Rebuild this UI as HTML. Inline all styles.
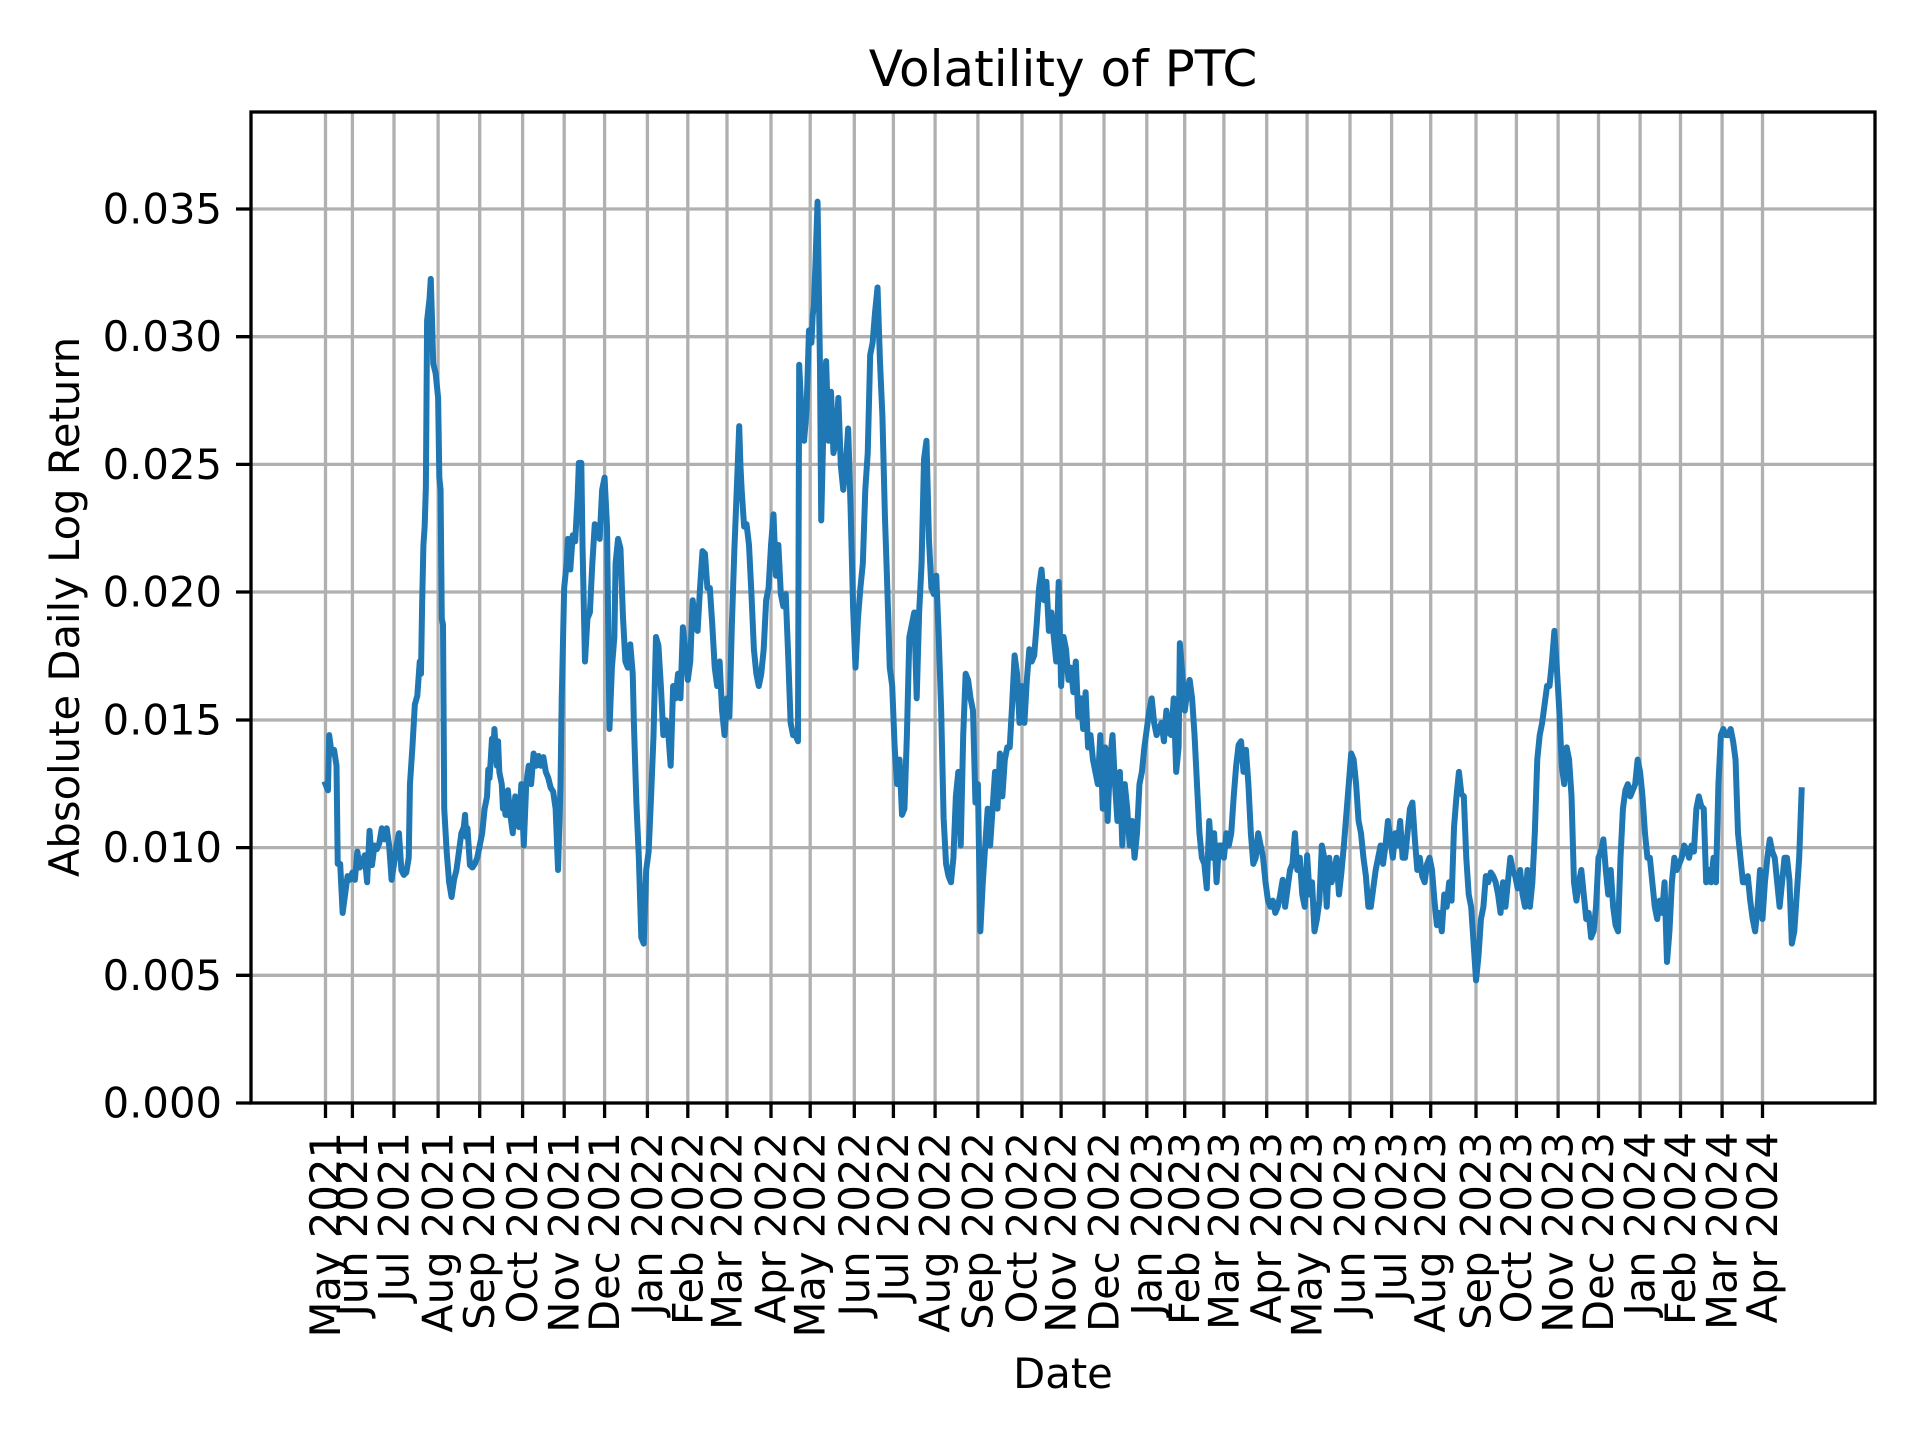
<!DOCTYPE html>
<html><head><meta charset="utf-8"><style>html,body{margin:0;padding:0;background:#fff}svg{display:block}text{font-family:"DejaVu Sans","Liberation Sans",sans-serif;fill:#000}</style></head>
<body>
<svg width="1920" height="1440" viewBox="0 0 1920 1440" xmlns="http://www.w3.org/2000/svg">
<rect width="1920" height="1440" fill="#fff"/>
<g stroke="#b0b0b0" stroke-width="3.3">
<line x1="251" x2="1875" y1="975.3" y2="975.3"/><line x1="251" x2="1875" y1="847.6" y2="847.6"/><line x1="251" x2="1875" y1="720" y2="720"/><line x1="251" x2="1875" y1="592" y2="592"/><line x1="251" x2="1875" y1="464.4" y2="464.4"/><line x1="251" x2="1875" y1="336.7" y2="336.7"/><line x1="251" x2="1875" y1="209" y2="209"/>
<path d="M325.5 112V1103M352.4 112V1103M394 112V1103M438.1 112V1103M479.7 112V1103M522.6 112V1103M564.2 112V1103M604.6 112V1103M647.4 112V1103M687.8 112V1103M727 112V1103M771 112V1103M810.2 112V1103M854.3 112V1103M893.4 112V1103M935.1 112V1103M977.9 112V1103M1022 112V1103M1061.1 112V1103M1104 112V1103M1146.8 112V1103M1184.7 112V1103M1223.9 112V1103M1266.7 112V1103M1307.1 112V1103M1350 112V1103M1391.6 112V1103M1430.7 112V1103M1476 112V1103M1516.4 112V1103M1558.1 112V1103M1598.5 112V1103M1640.1 112V1103M1680.5 112V1103M1722.1 112V1103M1762.5 112V1103"/>
</g>
<g transform="matrix(1.224,0,0,1.2263,1.14,-0.67)">
<polyline fill="none" stroke="#1f77b4" stroke-width="6" vector-effect="non-scaling-stroke" stroke-linejoin="round" stroke-linecap="square" points="265,640 267,645 268,600 270,615 272,612 274,625 275,705 277,705 279,745 281,730 283,715 285,718 287,712 289,718 291,695 293,708 295,705 297,698 299,720 301,678 303,706 305,690 307,693 309,688 311,676 313,685 315,676 317,690 319,718 321,705 323,690 325,680 327,710 329,714 331,712 333,700 334,640 336,610 338,575 340,568 342,540 343,550 344,490 345,445 346,430 347,398 348,262 350,244 351,228 352,260 353,297 355,305 357,325 358,390 359,400 360,505 361,510 362,660 364,695 366,720 368,732 370,718 372,710 374,695 376,680 378,675 379,665 380,683 381,676 383,706 385,708 387,705 389,700 391,690 393,680 395,660 397,650 398,628 399,635 400,620 401,603 402,615 403,595 405,625 406,605 407,630 409,640 410,660 411,650 412,665 413,665 414,645 416,665 418,680 420,650 421,670 423,675 425,640 427,690 429,640 431,625 433,640 435,615 437,625 439,617 441,625 443,618 445,630 447,635 449,643 451,646 453,660 455,710 457,640 458,570 460,480 462,460 463,440 465,465 467,437 469,442 471,405 472,378 474,378 475,446 477,540 479,505 481,500 483,460 485,428 487,430 489,440 491,400 493,390 495,430 497,595 499,545 501,520 502,460 504,440 506,448 508,503 510,540 512,545 514,526 516,550 517,592 519,655 521,700 523,765 525,770 527,710 529,695 531,650 533,600 535,520 537,527 539,560 541,600 543,588 545,598 547,625 549,560 551,570 553,550 555,570 557,512 559,530 561,555 563,540 565,490 567,510 569,515 571,480 573,450 575,452 577,480 579,480 581,510 583,545 585,560 587,540 589,580 591,600 593,570 595,585 597,510 599,450 601,400 603,348 604,380 605,400 607,430 609,428 611,445 613,485 615,530 617,550 619,560 621,550 623,530 625,490 627,480 629,445 631,420 633,470 635,445 637,485 639,495 641,485 643,535 645,590 647,600 649,600 651,605 652,298 654,340 656,360 658,335 660,270 662,280 663,258 664,250 665,224 667,165 669,300 670,425 672,340 674,295 676,360 678,320 680,370 682,360 684,325 686,380 688,400 690,380 692,350 694,415 696,495 698,545 700,505 702,480 704,460 706,400 708,370 710,290 712,280 714,255 716,235 718,295 720,340 722,420 724,480 726,545 728,560 730,610 732,640 734,620 736,665 738,660 740,600 742,520 744,510 746,500 748,570 750,500 752,460 754,375 756,360 758,440 760,480 762,485 764,470 766,520 768,580 770,668 772,705 774,715 776,720 778,700 780,650 782,630 784,690 786,600 788,550 790,555 792,570 794,580 796,655 798,640 800,760 802,720 804,690 806,660 808,690 810,660 812,630 814,660 816,615 818,650 820,620 822,610 824,610 826,575 828,535 830,550 832,590 834,560 836,590 838,555 840,530 842,540 844,535 846,510 848,480 850,465 852,490 854,475 856,515 858,500 860,520 862,540 864,475 866,560 868,520 870,530 872,555 874,545 876,565 878,540 880,585 882,570 884,595 886,565 888,610 890,600 892,620 894,630 896,640 898,600 900,660 902,610 904,670 906,620 908,600 910,640 912,670 914,630 916,690 918,640 920,660 922,690 924,670 926,700 928,680 930,640 932,630 934,610 936,595 938,580 940,570 942,590 944,600 946,595 948,590 950,605 952,580 954,598 956,600 958,570 960,630 962,610 963,525 965,550 967,580 969,565 971,555 973,570 975,600 977,640 979,680 981,700 983,705 985,725 987,670 989,700 991,680 993,720 995,690 997,690 999,700 1001,680 1003,690 1005,680 1007,650 1009,625 1011,608 1013,605 1015,630 1017,612 1019,640 1021,680 1023,705 1025,700 1027,680 1029,690 1031,700 1033,720 1035,735 1037,740 1039,735 1041,745 1043,740 1045,730 1047,718 1049,740 1051,725 1053,710 1055,705 1057,680 1059,710 1061,700 1063,730 1065,740 1067,698 1069,730 1071,720 1073,760 1075,750 1077,735 1079,690 1081,700 1083,740 1085,700 1087,720 1089,712 1091,700 1093,730 1095,712 1097,690 1099,665 1101,640 1103,615 1105,620 1107,640 1109,670 1111,680 1113,700 1115,715 1117,740 1119,740 1121,725 1123,710 1125,700 1127,690 1129,705 1131,690 1133,670 1135,685 1137,700 1139,680 1141,690 1143,670 1145,700 1147,700 1149,680 1151,660 1153,655 1155,685 1157,710 1159,700 1161,715 1163,720 1165,705 1167,700 1169,710 1171,735 1173,755 1175,745 1177,760 1179,730 1181,740 1183,720 1185,735 1187,675 1189,650 1191,630 1193,648 1195,650 1197,700 1199,730 1201,740 1203,770 1205,800 1207,780 1209,750 1211,740 1213,715 1215,720 1217,712 1219,715 1221,720 1223,730 1225,745 1227,720 1229,740 1231,720 1233,700 1235,710 1237,715 1239,725 1241,710 1243,730 1245,740 1247,710 1249,740 1251,720 1253,680 1255,620 1257,600 1259,590 1261,575 1263,560 1265,560 1267,540 1269,515 1271,545 1273,580 1275,625 1277,640 1279,610 1281,620 1283,650 1285,720 1287,735 1289,720 1291,710 1293,730 1295,750 1297,745 1299,765 1301,760 1303,740 1305,700 1307,695 1309,685 1311,710 1313,730 1315,710 1317,740 1319,755 1321,760 1323,700 1325,660 1327,645 1329,640 1331,650 1333,645 1335,640 1337,620 1339,630 1341,650 1343,680 1345,700 1347,700 1349,720 1351,740 1353,750 1355,735 1357,745 1359,720 1361,785 1363,760 1365,720 1367,700 1369,710 1371,705 1373,700 1375,690 1377,693 1379,700 1381,690 1383,695 1385,660 1387,650 1389,658 1391,660 1393,720 1395,710 1397,720 1399,700 1401,720 1403,640 1405,600 1407,595 1409,600 1411,600 1413,595 1415,605 1417,620 1419,680 1421,700 1423,720 1425,720 1427,715 1429,735 1431,750 1433,760 1435,740 1437,710 1439,750 1441,720 1443,700 1445,685 1447,695 1449,700 1451,720 1453,740 1455,720 1457,700 1459,700 1461,718 1463,770 1465,760 1467,730 1469,700 1471,645"/>
</g>
<rect x="251" y="112" width="1624" height="991" fill="none" stroke="#000" stroke-width="3.3"/>
<g stroke="#000" stroke-width="3.3">
<path d="M236 1103h15M236 975.3h15M236 847.6h15M236 720h15M236 592h15M236 464.4h15M236 336.7h15M236 209h15"/>
<path d="M325.5 1103v15M352.4 1103v15M394 1103v15M438.1 1103v15M479.7 1103v15M522.6 1103v15M564.2 1103v15M604.6 1103v15M647.4 1103v15M687.8 1103v15M727 1103v15M771 1103v15M810.2 1103v15M854.3 1103v15M893.4 1103v15M935.1 1103v15M977.9 1103v15M1022 1103v15M1061.1 1103v15M1104 1103v15M1146.8 1103v15M1184.7 1103v15M1223.9 1103v15M1266.7 1103v15M1307.1 1103v15M1350 1103v15M1391.6 1103v15M1430.7 1103v15M1476 1103v15M1516.4 1103v15M1558.1 1103v15M1598.5 1103v15M1640.1 1103v15M1680.5 1103v15M1722.1 1103v15M1762.5 1103v15"/>
</g>
<g font-size="41.7" text-anchor="end" dominant-baseline="central">
<text x="222" y="1103">0.000</text><text x="222" y="975.3">0.005</text><text x="222" y="847.6">0.010</text><text x="222" y="720">0.015</text><text x="222" y="592">0.020</text><text x="222" y="464.4">0.025</text><text x="222" y="336.7">0.030</text><text x="222" y="209">0.035</text>
</g>
<g font-size="41.7" text-anchor="end" dominant-baseline="central">
<text transform="translate(325.5,1132) rotate(-90)">May 2021</text>
<text transform="translate(352.4,1132) rotate(-90)">Jun 2021</text>
<text transform="translate(394,1132) rotate(-90)">Jul 2021</text>
<text transform="translate(438.1,1132) rotate(-90)">Aug 2021</text>
<text transform="translate(479.7,1132) rotate(-90)">Sep 2021</text>
<text transform="translate(522.6,1132) rotate(-90)">Oct 2021</text>
<text transform="translate(564.2,1132) rotate(-90)">Nov 2021</text>
<text transform="translate(604.6,1132) rotate(-90)">Dec 2021</text>
<text transform="translate(647.4,1132) rotate(-90)">Jan 2022</text>
<text transform="translate(687.8,1132) rotate(-90)">Feb 2022</text>
<text transform="translate(727,1132) rotate(-90)">Mar 2022</text>
<text transform="translate(771,1132) rotate(-90)">Apr 2022</text>
<text transform="translate(810.2,1132) rotate(-90)">May 2022</text>
<text transform="translate(854.3,1132) rotate(-90)">Jun 2022</text>
<text transform="translate(893.4,1132) rotate(-90)">Jul 2022</text>
<text transform="translate(935.1,1132) rotate(-90)">Aug 2022</text>
<text transform="translate(977.9,1132) rotate(-90)">Sep 2022</text>
<text transform="translate(1022,1132) rotate(-90)">Oct 2022</text>
<text transform="translate(1061.1,1132) rotate(-90)">Nov 2022</text>
<text transform="translate(1104,1132) rotate(-90)">Dec 2022</text>
<text transform="translate(1146.8,1132) rotate(-90)">Jan 2023</text>
<text transform="translate(1184.7,1132) rotate(-90)">Feb 2023</text>
<text transform="translate(1223.9,1132) rotate(-90)">Mar 2023</text>
<text transform="translate(1266.7,1132) rotate(-90)">Apr 2023</text>
<text transform="translate(1307.1,1132) rotate(-90)">May 2023</text>
<text transform="translate(1350,1132) rotate(-90)">Jun 2023</text>
<text transform="translate(1391.6,1132) rotate(-90)">Jul 2023</text>
<text transform="translate(1430.7,1132) rotate(-90)">Aug 2023</text>
<text transform="translate(1476,1132) rotate(-90)">Sep 2023</text>
<text transform="translate(1516.4,1132) rotate(-90)">Oct 2023</text>
<text transform="translate(1558.1,1132) rotate(-90)">Nov 2023</text>
<text transform="translate(1598.5,1132) rotate(-90)">Dec 2023</text>
<text transform="translate(1640.1,1132) rotate(-90)">Jan 2024</text>
<text transform="translate(1680.5,1132) rotate(-90)">Feb 2024</text>
<text transform="translate(1722.1,1132) rotate(-90)">Mar 2024</text>
<text transform="translate(1762.5,1132) rotate(-90)">Apr 2024</text>
</g>
<text x="1063" y="1388" font-size="41.7" text-anchor="middle">Date</text>
<text transform="translate(79,607) rotate(-90)" font-size="41.7" text-anchor="middle">Absolute Daily Log Return</text>
<text x="1063" y="86" font-size="50" text-anchor="middle">Volatility of PTC</text>
</svg>
</body></html>
